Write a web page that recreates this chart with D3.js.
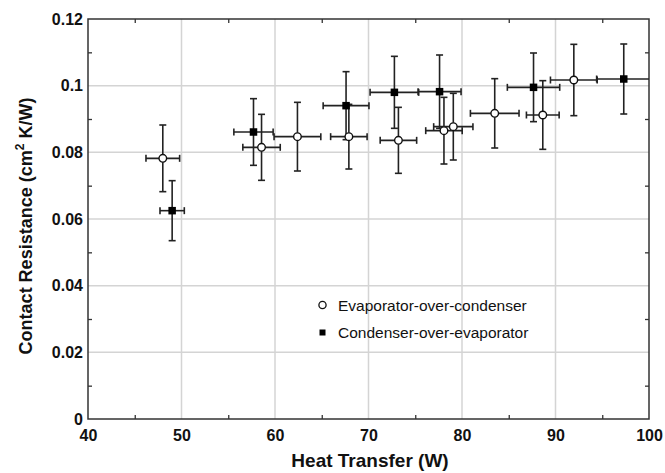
<!DOCTYPE html>
<html>
<head>
<meta charset="utf-8">
<script src="https://cdn.jsdelivr.net/npm/d3@7"></script>
<style>
  html, body { margin: 0; padding: 0; background: #fff; }
  svg { display: block; }
</style>
</head>
<body>
<svg id="chart" width="665" height="473"></svg>
<script>
// ---- data ----
const evapX    = [48.0, 58.56, 62.4, 67.9, 73.2, 78.07, 79.07, 83.5, 88.64, 91.96];
const evapY    = [0.0782, 0.0815, 0.0847, 0.0847, 0.0836, 0.0865, 0.0877, 0.0917, 0.0912, 0.1017];
const evapXErr = [1.8, 2.0, 2.5, 1.95, 1.95, 1.95, 2.1, 2.6, 1.75, 2.5];
const evapYErr = [0.0100, 0.0099, 0.0103, 0.0097, 0.0099, 0.0100, 0.0100, 0.0104, 0.0103, 0.0107];

const condX    = [49.0, 57.7, 67.6, 72.77, 77.6, 87.65, 97.3];
const condY    = [0.0625, 0.0861, 0.094, 0.098, 0.0982, 0.0995, 0.102];
const condXErr = [1.3, 2.1, 2.45, 2.6, 2.3, 2.8, 2.9];
const condYErr = [0.0090, 0.0100, 0.0102, 0.0108, 0.0110, 0.0103, 0.0105];

const xTicks = [40, 50, 60, 70, 80, 90, 100];
const yTicks = [0, 0.02, 0.04, 0.06, 0.08, 0.1, 0.12];
const xMinor = [45, 55, 65, 75, 85, 95];
const yMinor = [0.01, 0.03, 0.05, 0.07, 0.09, 0.11];
const legendLabels = ["Evaporator-over-condenser", "Condenser-over-evaporator"];

// ---- layout ----
const L = 88, R = 649, T = 19, B = 419;
const svg = d3.select("#chart");
const x = d3.scaleLinear().domain([40, 100]).range([L, R]);
const y = d3.scaleLinear().domain([0, 0.12]).range([B, T]);
const font = "'Liberation Sans', Arial, Helvetica, sans-serif";

svg.append("defs").append("clipPath").attr("id", "clip")
  .append("rect").attr("x", L).attr("y", T).attr("width", R - L).attr("height", B - T);

// gridlines
const grid = svg.append("g");
grid.selectAll(".gx").data(xTicks.slice(1, -1)).join("line")
  .attr("x1", d => x(d)).attr("x2", d => x(d)).attr("y1", T).attr("y2", B)
  .attr("stroke", "#d4d4d4").attr("stroke-width", 1.5);
grid.selectAll(".gy").data(yTicks.slice(1, -1)).join("line")
  .attr("y1", d => y(d)).attr("y2", d => y(d)).attr("x1", L).attr("x2", R)
  .attr("stroke", "#d4d4d4").attr("stroke-width", 1.5);

// axes with inward minor ticks
const axisColor = "#333";
function styleAxis(g) {
  g.select(".domain").remove();
  g.selectAll("line").attr("stroke", axisColor).attr("stroke-width", 1.3);
}
svg.append("g").attr("transform", `translate(0,${B})`)
  .call(d3.axisBottom(x).tickValues(xMinor).tickSize(-4).tickFormat(""))
  .call(styleAxis);
svg.append("g").attr("transform", `translate(0,${T})`)
  .call(d3.axisTop(x).tickValues(xMinor).tickSize(-4).tickFormat(""))
  .call(styleAxis);
svg.append("g").attr("transform", `translate(${L},0)`)
  .call(d3.axisLeft(y).tickValues(yMinor).tickSize(-4).tickFormat(""))
  .call(styleAxis);
svg.append("g").attr("transform", `translate(${R},0)`)
  .call(d3.axisRight(y).tickValues(yMinor).tickSize(-4).tickFormat(""))
  .call(styleAxis);

// tick labels via axes (no tick lines)
const xLab = svg.append("g").attr("transform", `translate(0,${B})`)
  .call(d3.axisBottom(x).tickValues(xTicks).tickSize(0).tickPadding(11).tickFormat(d3.format("d")));
xLab.select(".domain").remove();
xLab.selectAll("text").attr("font-family", font).attr("font-size", 16)
  .attr("font-weight", "bold").attr("fill", "#111");

const yLab = svg.append("g").attr("transform", `translate(${L},0)`)
  .call(d3.axisLeft(y).tickValues(yTicks).tickSize(0).tickPadding(5).tickFormat(d => d === 0 ? "0" : String(+d.toFixed(2))));
yLab.select(".domain").remove();
yLab.selectAll("text").attr("font-family", font).attr("font-size", 16)
  .attr("font-weight", "bold").attr("fill", "#111");

// frame
svg.append("rect").attr("x", L).attr("y", T).attr("width", R - L).attr("height", B - T)
  .attr("fill", "none").attr("stroke", axisColor).attr("stroke-width", 1.5);

// error bars
const eb = svg.append("g").attr("clip-path", "url(#clip)")
  .attr("stroke", "#222").attr("stroke-width", 1.6).attr("fill", "none");
const cap = 3.5;
function errorBars(xs, ys, xe, ye) {
  xs.forEach((xv, i) => {
    const cx = x(xv), cy = y(ys[i]);
    const x0 = x(xv - xe[i]), x1 = x(xv + xe[i]);
    const y0 = y(ys[i] - ye[i]), y1 = y(ys[i] + ye[i]);
    eb.append("line").attr("x1", x0).attr("x2", x1).attr("y1", cy).attr("y2", cy);
    eb.append("line").attr("x1", x0).attr("x2", x0).attr("y1", cy - cap).attr("y2", cy + cap);
    eb.append("line").attr("x1", x1).attr("x2", x1).attr("y1", cy - cap).attr("y2", cy + cap);
    eb.append("line").attr("x1", cx).attr("x2", cx).attr("y1", y0).attr("y2", y1);
    eb.append("line").attr("x1", cx - cap).attr("x2", cx + cap).attr("y1", y0).attr("y2", y0);
    eb.append("line").attr("x1", cx - cap).attr("x2", cx + cap).attr("y1", y1).attr("y2", y1);
  });
}
errorBars(evapX, evapY, evapXErr, evapYErr);
errorBars(condX, condY, condXErr, condYErr);

// markers
const mk = svg.append("g");
mk.selectAll(".ev").data(evapX).join("circle")
  .attr("cx", d => x(d)).attr("cy", (d, i) => y(evapY[i])).attr("r", 3.8)
  .attr("fill", "#fff").attr("stroke", "#111").attr("stroke-width", 1.4);
const sq = 7.5;
mk.selectAll(".cd").data(condX).join("rect")
  .attr("x", d => x(d) - sq / 2).attr("y", (d, i) => y(condY[i]) - sq / 2)
  .attr("width", sq).attr("height", sq).attr("fill", "#000");

// legend
const lg = svg.append("g").attr("font-family", font).attr("font-size", 15.5).attr("fill", "#111");
const legY = [305, 332.5];
lg.append("circle").attr("cx", 322.5).attr("cy", legY[0]).attr("r", 3.6)
  .attr("fill", "#fff").attr("stroke", "#111").attr("stroke-width", 1.3);
lg.append("rect").attr("x", 319.5).attr("y", legY[1] - 3).attr("width", 6).attr("height", 6).attr("fill", "#000");
legendLabels.forEach((t, i) => {
  lg.append("text").attr("x", 338).attr("y", legY[i]).attr("dy", "0.36em").text(t);
});

// axis titles
svg.append("text").attr("x", 370).attr("y", 467).attr("text-anchor", "middle")
  .attr("font-family", font).attr("font-size", 19).attr("font-weight", "bold").attr("fill", "#111")
  .text("Heat Transfer (W)");
const yt = svg.append("text").attr("transform", `translate(32,226) rotate(-90)`)
  .attr("text-anchor", "middle").attr("font-family", font).attr("font-size", 18)
  .attr("font-weight", "bold").attr("fill", "#111");
yt.append("tspan").text("Contact Resistance (cm");
yt.append("tspan").attr("dy", -8).attr("font-size", 12).text("2");
yt.append("tspan").attr("dy", 8).text(" K/W)");
</script>
</body>
</html>
